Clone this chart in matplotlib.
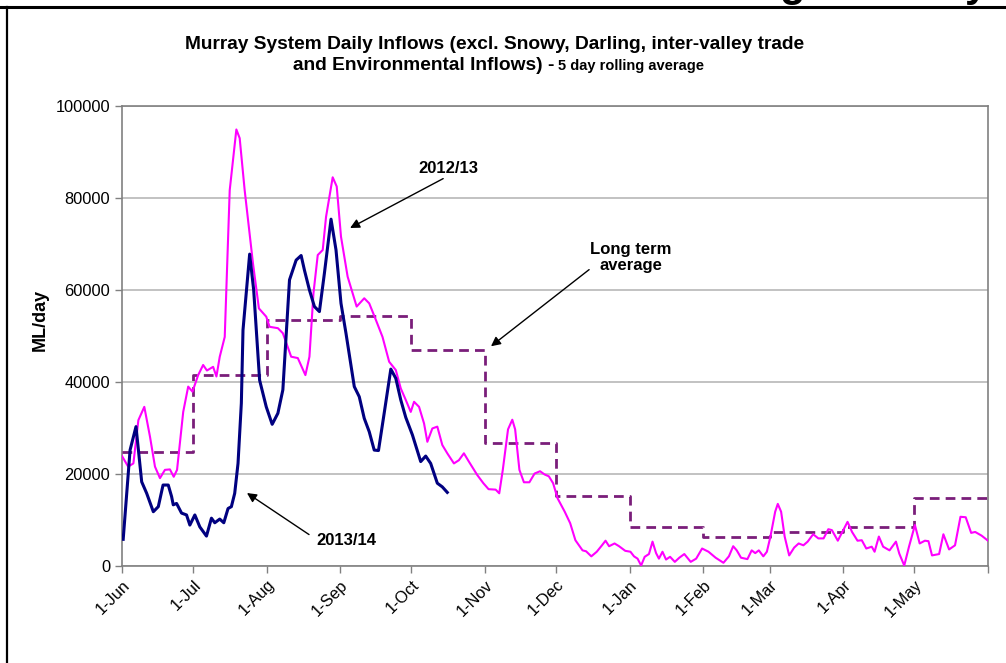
import numpy as np
import matplotlib
matplotlib.use('Agg')
import matplotlib.pyplot as plt
from matplotlib.lines import Line2D

plt.rcParams['font.family'] = ['Liberation Sans', 'DejaVu Sans']

# x axis is days since 1-Jun
month_days = [0, 30, 61, 92, 122, 153, 183, 214, 245, 273, 304, 334, 365]
month_labels = ['1-Jun', '1-Jul', '1-Aug', '1-Sep', '1-Oct', '1-Nov', '1-Dec',
                '1-Jan', '1-Feb', '1-Mar', '1-Apr', '1-May', '']

# long term average (ML/day, thousands), one value per month Jun..May
lta_k = [24.8, 41.6, 53.4, 54.3, 46.9, 26.7, 15.3, 8.5, 6.2, 7.3, 8.5, 14.8]

# 2013/14 (5 day rolling average, thousands of ML/day)
y1314_day = [0.5, 3.4, 5.9, 8.3, 10.4, 13.2, 15.3, 17.3, 19.5, 20.9,
             21.6, 23, 25.1, 27.2, 28.6, 30.7, 32.8, 35.6, 37.7, 39.1,
             41.2, 42.9, 44.7, 46.1, 47.5, 48.9, 50.3, 51.0, 53.8, 55.5, 58,
             60.8, 63.3, 65.7, 67.8, 70.6, 73.4, 75.5, 76.9, 79, 81.1,
             83.2, 85.3, 88.1, 90.2, 92.3, 94.4, 97.9, 100, 102.1, 104.2,
             106.3, 108.1, 110.5, 113.3, 115.4, 117.5, 119.6, 122.4, 125.9, 128,
             130.1, 132.9, 135, 137.1]
y1314_k = [5.8, 25.2, 30.3, 18.3, 15.8, 11.8, 12.9, 17.6, 17.6, 15.1,
           13.3, 13.6, 11.5, 11.1, 8.9, 11.1, 8.5, 6.5, 10.4, 9.4,
           10.2, 9.4, 12.5, 12.9, 15.8, 22.3, 35.4, 51.3, 67.8, 60.0, 40.4,
           34.6, 30.8, 33.2, 38.3, 62.2, 66.5, 67.5, 64.3, 60.0, 56.4,
           55.3, 63.6, 75.4, 68.7, 57.1, 50.6, 39.0, 36.8, 32.1, 29.2,
           25.2, 25.1, 33.2, 42.8, 40.8, 36.1, 32.3, 28.5, 22.7, 23.9,
           22.3, 18.0, 17.2, 16.0]

# 2012/13
y1213_day = [0, 2.6, 4.8, 6.9, 9.4, 11.8, 13.9, 16, 18.1, 20.2, 21.8, 23.2, 25.8, 27.9, 29.7,
             32.1, 34.2, 35.8, 38.4, 39.8, 41.2, 43.3, 45.4, 48.2, 49.6, 51.7, 55.2, 57.7,
             60.8, 62.2, 65.7, 67.8, 71.3, 74.1, 77.3, 79, 80.7, 82.5, 84.6, 86, 88.8, 90.5,
             92.3, 95.1, 98.9, 102.1, 104.2, 107, 109.8, 112.6, 115.4, 117.5, 119.6, 121.7,
             123.1, 125.2, 127.3, 128.7, 130.8, 132.9, 135, 137.1, 139.9, 142, 144.1, 146.2,
             149.7, 152.3, 154.5, 157.5, 159, 160.5, 162.7, 164.5, 165.7, 167.5, 169.4, 171.7,
             173.9, 176.2, 178.1, 179.9, 181.7, 183.6, 186.6, 188.9, 191.1, 194.1, 195.6,
             197.8, 200.1, 202.3, 203.8, 205.3, 207.6, 209.5, 212.1, 214.3, 215.8, 217.3,
             218.8, 220.3, 222.1, 223.6, 225.1, 226.3, 227.8, 229.3, 231, 233, 234.9, 237,
             239.7, 242, 244.5, 247.2, 250.2, 253.5, 255.8, 257.6, 259.1, 260.9, 263.6,
             265.4, 266.9, 268.4, 270.3, 271.8, 273.3, 275.3, 276.4, 277.8, 279.3, 281.2,
             283.3, 285.2, 287.2, 289, 291.3, 293.5, 295.7, 297.7, 299.2, 301.7, 304, 305.8,
             307.7, 310, 311.8, 313.7, 316, 317.2, 319, 320.8, 323.5, 326.2, 327.6, 329.7,
             331.7, 334.2, 336.2, 338.4, 339.9, 341.4, 344.4, 346.2, 348.6, 351.1, 353.4,
             355.6, 357.9, 359.6, 362.3, 365]
y1213_k = [23.9, 21.6, 22.3, 31.7, 34.6, 28.1, 21.6, 19.1, 20.9, 21.0, 19.4, 20.9, 33.5, 39.0, 37.9,
           41.5, 43.7, 42.5, 43.3, 41.2, 45.5, 49.8, 81.7, 94.9, 93.0, 81.7, 65.8, 56.0,
           54.2, 52.0, 51.7, 50.6, 45.5, 45.2, 41.5, 45.5, 59.3, 67.6, 68.7, 75.9, 84.5, 82.5,
           71.6, 62.9, 56.4, 58.2, 57.1, 53.5, 49.8, 44.4, 42.6, 38.6, 36.1, 33.5,
           35.7, 34.6, 31.0, 27.0, 29.9, 30.3, 26.3, 24.5, 22.3, 23.0, 24.5, 22.7,
           19.8, 18.0, 16.7, 16.6, 15.8, 20.9, 29.7, 31.8, 29.7, 20.9, 18.2, 18.2,
           20.1, 20.6, 19.9, 19.5, 18.0, 14.7, 11.8, 9.3, 5.6, 3.4, 3.2,
           2.1, 3.1, 4.5, 5.5, 4.3, 4.9, 4.3, 3.3, 3.1, 2.1, 1.6,
           0.1, 2.0, 2.6, 5.3, 2.8, 1.6, 3.1, 1.4, 2.0, 0.9, 1.8, 2.6,
           0.9, 1.6, 3.8, 3.1, 1.8, 0.7, 2.1, 4.3, 3.4, 1.8, 1.5,
           3.4, 2.8, 3.4, 2.1, 3.1, 6.4, 11.8, 13.5, 11.8, 6.4, 2.3,
           4.0, 4.9, 4.5, 5.3, 6.9, 6.0, 6.0, 8.0, 7.8, 5.5, 7.8, 9.6,
           7.4, 5.5, 5.6, 3.8, 4.2, 3.1, 6.4, 4.2, 3.4, 5.3, 2.7, 0.1,
           4.2, 8.9, 4.9, 5.5, 5.4, 2.3, 2.6, 6.9, 3.6, 4.5, 10.7,
           10.6, 7.2, 7.4, 6.6, 5.5]

W, H = 1006, 663
fig = plt.figure(figsize=(W / 100, H / 100), dpi=100)
ax = fig.add_axes([122 / W, (H - 566) / H, (988 - 122) / W, (566 - 106) / H])

# long term average as monthly steps
ax.step(month_days, np.array(lta_k + [lta_k[-1]]) * 1000, where='post',
        color='#7A1E7A', lw=2.0, ls=(0, (3.5, 2.2)), zorder=3)
ax.plot(y1213_day, np.array(y1213_k) * 1000, color='#FF00FF', lw=1.5, zorder=4)
ax.plot(y1314_day, np.array(y1314_k) * 1000, color='#000080', lw=2.2, zorder=5)

ax.set_xlim(0, 365)
ax.set_ylim(0, 100000)
ax.set_yticks(np.arange(0, 100001, 20000))
ax.set_xticks(month_days)
ax.set_xticklabels(month_labels, rotation=45, ha='right', rotation_mode='anchor')
ax.tick_params(axis='both', labelsize=11.8, color='#808080', length=5, width=1)
ax.tick_params(axis='x', pad=3)
ax.yaxis.grid(True, color='#B8B8B8', lw=1.2)
ax.set_axisbelow(True)
for s in ax.spines.values():
    s.set_color('#808080')
    s.set_linewidth(1.2)

fig.text(40 / W, 1 - 320 / H, 'ML/day', rotation=90, ha='center', va='center',
         fontsize=13, fontweight='bold')

# title
fig.text(495 / W, 1 - 49 / H,
         'Murray System Daily Inflows (excl. Snowy, Darling, inter-valley trade',
         ha='center', va='baseline', fontsize=13.8, fontweight='bold')
fig.text(554 / W, 1 - 70 / H, 'and Environmental Inflows) -',
         ha='right', va='baseline', fontsize=13.8, fontweight='bold')
fig.text(558 / W, 1 - 70 / H, '5 day rolling average',
         ha='left', va='baseline', fontsize=10.5, fontweight='bold')

# annotations
arrow = dict(arrowstyle='-|>', color='black', lw=1.0, mutation_scale=14)
ax.annotate('', xy=(95.1, 73200), xytext=(136.4, 84500), arrowprops=arrow)
ax.text(137.4, 86500, '2012/13', ha='center', va='center', fontsize=12, fontweight='bold')
ax.annotate('', xy=(154.6, 47400), xytext=(197.8, 64800), arrowprops=arrow)
ax.text(214.6, 67000, 'Long term\naverage', ha='center', va='center', fontsize=12,
        fontweight='bold', linespacing=1.1)
ax.annotate('', xy=(51.7, 16200), xytext=(79.8, 6500), arrowprops=arrow)
ax.text(94.4, 5650, '2013/14', ha='center', va='center', fontsize=12, fontweight='bold')

# slide frame
fig.add_artist(Line2D([0, 1], [1 - 7 / H, 1 - 7 / H], transform=fig.transFigure,
                      color='black', lw=2.2))
fig.add_artist(Line2D([7 / W, 7 / W], [0, 1 - 7 / H], transform=fig.transFigure,
                      color='black', lw=1.6))
# descenders of the slide heading, cut off by the top edge as in the source
fig.text(792 / W, 1 + 4 / H, 'g', ha='center', va='baseline', fontsize=30, fontweight='bold')
fig.text(976 / W, 1 + 4 / H, 'y', ha='center', va='baseline', fontsize=30, fontweight='bold')

fig.savefig('out.png', dpi=100)
